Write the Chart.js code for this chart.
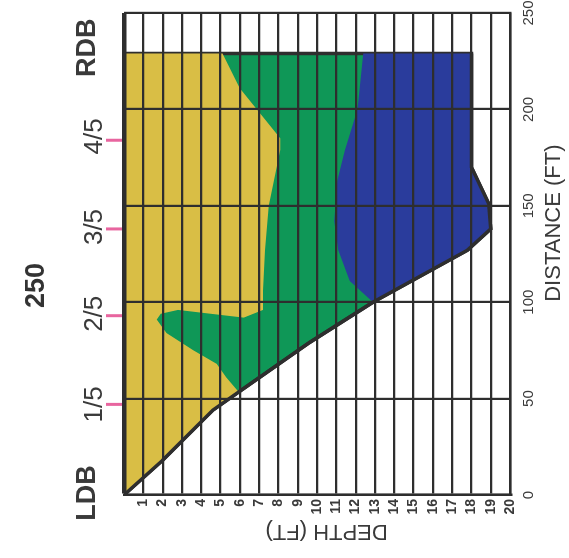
<!DOCTYPE html>
<html><head><meta charset="utf-8">
<script src="https://cdn.jsdelivr.net/npm/chart.js@4"></script>
<style>
html,body{margin:0;padding:0;background:#fff;overflow:hidden;width:569px;height:558px;}
#wrap{position:absolute;left:0;top:0;width:558px;height:569px;transform-origin:0 0;transform:translate(0px,558px) rotate(-90deg);}
canvas{display:block;}
</style></head><body>
<div id="wrap"><canvas id="c" width="558" height="569"></canvas></div>
<script>
// ---- data (distance in ft across section, depth in ft) ----
const chartTitle = '250';
const distanceTicks = [0, 50, 100, 150, 200, 250];
const depthTicks = [0,1,2,3,4,5,6,7,8,9,10,11,12,13,14,15,16,17,18,19,20];
const bankLabels = ['LDB', '1/5', '2/5', '3/5', '4/5', 'RDB'];
const bankTickDistance = [0, 47, 93, 138, 184, 229];
const bankLabelDistance = [1, 47, 94, 139, 186, 232];
// channel bed profile
const bedDistance = [0, 18, 44, 51, 79, 100, 127, 138, 151, 170, 229];
const bedDepth    = [0, 2.0, 4.6, 5.6, 9.6, 12.9, 17.8, 19.0, 18.9, 18.0, 18.0];
// boundary between yellow and green zones (from RDB water line down to bed)
const yellowEdgeDistance = [229, 211, 198, 185, 179, 150, 127, 106, 96, 92, 94, 96, 94, 91, 84, 75, 68, 61, 54];
const yellowEdgeDepth    = [5.1, 6.0, 7.05, 8.1, 8.1, 7.5, 7.3, 7.2, 7.2, 6.2, 4.5, 2.8, 1.9, 1.7, 2.2, 3.6, 4.8, 5.3, 5.9];
// boundary between green and blue zones
const blueEdgeDistance = [229, 200, 179, 163, 142, 127, 111, 100];
const blueEdgeDepth    = [12.4, 12.1, 11.45, 11.05, 10.9, 11.1, 11.7, 12.9];

const pts = (xs, ys) => xs.map((v, i) => ({x: v, y: ys[i]}));
const bed = pts(bedDistance, bedDepth);
const waterTop = bankTickDistance[bankTickDistance.length - 1];
const yellowEdge = pts(yellowEdgeDistance, yellowEdgeDepth);
const blueEdge = pts(blueEdgeDistance, blueEdgeDepth);

const waterPoly = [{x: 0, y: 0}, {x: waterTop, y: 0}].concat(bed.slice().reverse());
const yellowEnd = yellowEdgeDistance[yellowEdgeDistance.length - 1];
const yellowPoly = [{x: 0, y: 0}, {x: waterTop, y: 0}].concat(yellowEdge, bed.filter(p => p.x < yellowEnd).reverse());
const blueEnd = blueEdgeDistance[blueEdgeDistance.length - 1];
const bluePoly = blueEdge.concat(bed.filter(p => p.x > blueEnd), [blueEdge[0]]);

const FONT = "'Liberation Sans', Arial, sans-serif";
const DARK = '#2e2e2e';

const overlay = {
  id: 'overlay',
  afterDraw(chart) {
    const {ctx, chartArea, scales: {x, y}} = chart;
    ctx.save();
    // pink fraction ticks
    ctx.strokeStyle = '#e8659f';
    ctx.lineWidth = 3;
    bankTickDistance.forEach((d, i) => {
      if (i === 0 || i === bankTickDistance.length - 1) return;
      const px = x.getPixelForValue(d);
      ctx.beginPath();
      ctx.moveTo(px, chartArea.top - 18);
      ctx.lineTo(px, chartArea.top - 2);
      ctx.stroke();
    });
    // bank / fraction labels
    ctx.fillStyle = '#3a3a3a';
    ctx.textAlign = 'center';
    ctx.textBaseline = 'middle';
    bankLabels.forEach((t, i) => {
      const bank = (i === 0 || i === bankLabels.length - 1);
      ctx.font = (bank ? 'bold 27px ' : '26px ') + FONT;
      ctx.fillText(t, x.getPixelForValue(bankLabelDistance[i]), chartArea.top - (bank ? 36 : 29));
    });
    // axis titles
    ctx.font = '22px ' + FONT;
    ctx.fillText('DISTANCE (FT)', x.getPixelForValue(141), chartArea.bottom + 44);
    ctx.translate(chartArea.left - 36, y.getPixelForValue(10.5));
    ctx.rotate(-Math.PI / 2);
    ctx.fillText('DEPTH (FT)', 0, 0);
    ctx.restore();
  }
};

new Chart(document.getElementById('c'), {
  type: 'line',
  data: {
    datasets: [
      {label: 'bed', data: bed, borderColor: DARK, borderWidth: 3.5, pointRadius: 0, fill: false, order: 0},
      {label: 'low', data: yellowPoly, backgroundColor: '#d9be45', borderWidth: 0, pointRadius: 0, fill: 'shape', order: 1},
      {label: 'high', data: bluePoly, backgroundColor: '#2a3c9c', borderWidth: 0, pointRadius: 0, fill: 'shape', order: 1},
      {label: 'mid', data: waterPoly, backgroundColor: '#0f9757', borderColor: DARK, borderWidth: 3.5, pointRadius: 0, fill: 'shape', order: 2}
    ]
  },
  options: {
    responsive: false,
    animation: false,
    devicePixelRatio: 1,
    layout: {padding: {left: 0, right: 13, top: 0, bottom: 0}},
    plugins: {
      legend: {display: false},
      tooltip: {enabled: false},
      title: {display: true, text: chartTitle, color: '#333', font: {family: FONT, size: 27, weight: 'bold'}, padding: {top: 20, bottom: 71.6}}
    },
    scales: {
      x: {
        type: 'linear', position: 'bottom', min: 0, max: 250,
        afterBuildTicks: s => { s.ticks = distanceTicks.map(v => ({value: v})); },
        afterFit: s => { s.height = 59; s.paddingLeft = 0; s.paddingRight = 0; },
        ticks: {color: '#3a3a3a', font: {family: FONT, size: 15}, padding: 10, maxRotation: 0, autoSkip: false},
        grid: {color: DARK, lineWidth: 2.2, drawTicks: false, z: 1},
        border: {display: true, color: DARK, width: 2.5, z: 1}
      },
      y: {
        type: 'linear', position: 'left', min: 0, max: 20, reverse: true,
        afterBuildTicks: s => { s.ticks = depthTicks.map(v => ({value: v})); },
        afterFit: s => { s.width = 63; s.paddingTop = 0; s.paddingBottom = 0; },
        ticks: {color: '#3a3a3a', font: {family: FONT, size: 14, weight: 'bold'}, padding: 4, autoSkip: false, callback: v => v === 0 ? '' : String(v)},
        grid: {color: DARK, lineWidth: c => (c.tick && c.tick.value === 0) ? 4.5 : 2.2, drawTicks: false, z: 1},
        border: {display: true, color: DARK, width: 2.5, z: 1}
      }
    }
  },
  plugins: [overlay]
});
</script>
</body></html>
